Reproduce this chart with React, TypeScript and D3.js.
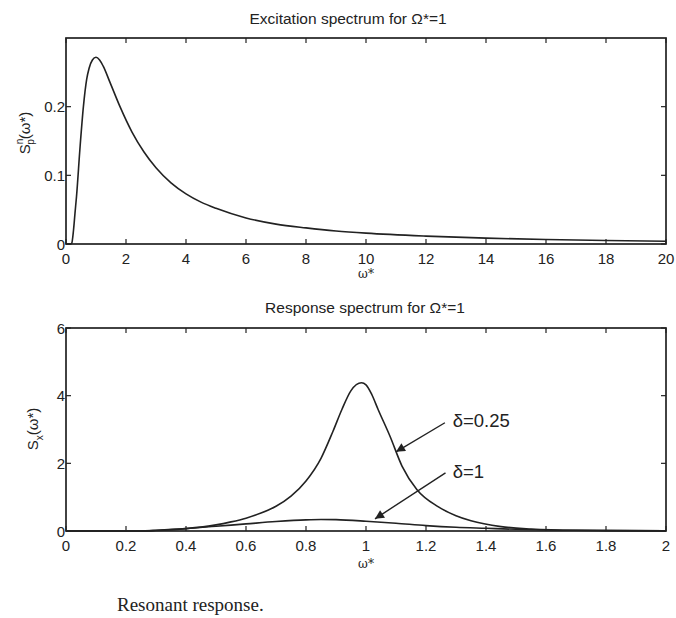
import React from 'react';
import * as d3 from 'd3';

// excitation spectrum
const excOmega = [0, 0.15, 0.19, 0.25, 0.3, 0.35, 0.47, 0.58, 0.69, 0.77, 0.88, 1.0, 1.12, 1.24, 1.47, 1.8, 2.2, 2.6, 3.0, 3.5, 4.0, 4.5, 5.0, 6.0, 7.0, 8.0, 9.0, 10, 12, 14, 16, 18, 20];
const excValue = [0, 0, 0.001, 0.02, 0.045, 0.069, 0.142, 0.2, 0.24, 0.256, 0.268, 0.272, 0.268, 0.259, 0.235, 0.2, 0.163, 0.134, 0.111, 0.089, 0.073, 0.061, 0.052, 0.038, 0.029, 0.0235, 0.019, 0.0158, 0.0115, 0.0085, 0.0065, 0.005, 0.004];

// response spectra
const respOmegaA = [0, 0.25, 0.3, 0.4, 0.5, 0.55, 0.6, 0.65, 0.7, 0.75, 0.8, 0.85, 0.89, 0.92, 0.95, 0.985, 1.0, 1.02, 1.04, 1.08, 1.12, 1.17, 1.24, 1.3, 1.35, 1.45, 1.55, 1.7, 2.0];
const respValueA = [0, 0, 0.015, 0.07, 0.18, 0.27, 0.38, 0.53, 0.73, 1.03, 1.48, 2.15, 2.95, 3.6, 4.15, 4.38, 4.32, 4.02, 3.6, 2.8, 1.92, 1.22, 0.72, 0.45, 0.3, 0.13, 0.06, 0.02, 0.005];
const respOmegaB = [0, 0.25, 0.3, 0.4, 0.5, 0.6, 0.7, 0.8, 0.85, 0.9, 1.0, 1.1, 1.2, 1.3, 1.4, 1.5, 1.6, 1.8, 2.0];
const respValueB = [0, 0, 0.02, 0.07, 0.14, 0.21, 0.28, 0.33, 0.34, 0.335, 0.29, 0.23, 0.16, 0.11, 0.08, 0.05, 0.03, 0.012, 0.005];

const topXTicks = [0, 2, 4, 6, 8, 10, 12, 14, 16, 18, 20];
const topYTicks = [0, 0.1, 0.2];
const botXTicks = [0, 0.2, 0.4, 0.6, 0.8, 1, 1.2, 1.4, 1.6, 1.8, 2];
const botYTicks = [0, 2, 4, 6];

// annotations in data units: label, text pos, arrow tail, arrow tip
const notes = [
  { label: 'δ=0.25', tx: 1.289, ty: 3.06, x1: 1.263, y1: 3.2, x2: 1.1, y2: 2.34 },
  { label: 'δ=1', tx: 1.289, ty: 1.57, x1: 1.265, y1: 1.72, x2: 1.03, y2: 0.36 },
];

const INK = '#222';
const FONT = '"Liberation Sans", Arial, sans-serif';

function Frame({ x, y, xTicks, yTicks, labelDy }: any) {
  const [x0, x1] = x.range();
  const [y0, y1] = y.range();
  const tl = 5;
  return (
    <g>
      <rect x={x0} y={y1} width={x1 - x0} height={y0 - y1} fill="none" stroke={INK} strokeWidth={1.7} />
      {xTicks.map((t: number) => (
        <g key={'x' + t}>
          <line x1={x(t)} x2={x(t)} y1={y0} y2={y0 - tl} stroke={INK} strokeWidth={1.2} />
          <line x1={x(t)} x2={x(t)} y1={y1} y2={y1 + tl} stroke={INK} strokeWidth={1.2} />
          <text x={x(t)} y={y0 + labelDy} textAnchor="middle" fontSize={15} fill={INK} fontFamily={FONT}>{String(t)}</text>
        </g>
      ))}
      {yTicks.map((t: number) => (
        <g key={'y' + t}>
          <line x1={x0} x2={x0 + tl} y1={y(t)} y2={y(t)} stroke={INK} strokeWidth={1.2} />
          <line x1={x1} x2={x1 - tl} y1={y(t)} y2={y(t)} stroke={INK} strokeWidth={1.2} />
          <text x={x0 - 1} y={y(t) + 5.5} textAnchor="end" fontSize={15} fill={INK} fontFamily={FONT}>{String(t)}</text>
        </g>
      ))}
    </g>
  );
}

export default function App() {
  const W = 676, H = 618;

  const xTop = d3.scaleLinear().domain([0, 20]).range([66, 666]);
  const yTop = d3.scaleLinear().domain([0, 0.3]).range([244, 38]);
  const xBot = d3.scaleLinear().domain([0, 2]).range([66, 666]);
  const yBot = d3.scaleLinear().domain([0, 6]).range([531, 328]);

  const lineTop = d3.line<number>().x((d, i) => xTop(excOmega[i])).y(d => yTop(d)).curve(d3.curveMonotoneX);
  const lineA = d3.line<number>().x((d, i) => xBot(respOmegaA[i])).y(d => yBot(d)).curve(d3.curveMonotoneX);
  const lineB = d3.line<number>().x((d, i) => xBot(respOmegaB[i])).y(d => yBot(d)).curve(d3.curveMonotoneX);

  return (
    <svg width={W} height={H} style={{ position: 'absolute', left: 0, top: 0, background: '#fff' }}>
      <defs>
        <marker id="ah" viewBox="0 0 10 10" refX="10" refY="5" markerWidth="13" markerHeight="9" markerUnits="userSpaceOnUse" orient="auto">
          <path d="M0,0 L10,5 L0,10 z" fill={INK} />
        </marker>
      </defs>

      {/* top panel */}
      <text x={348} y={24} textAnchor="middle" fontSize={15.5} fill={INK} fontFamily={FONT}>Excitation spectrum for Ω*=1</text>
      <path d={lineTop(excValue) || ''} fill="none" stroke={INK} strokeWidth={1.6} />
      <Frame x={xTop} y={yTop} xTicks={topXTicks} yTicks={topYTicks} labelDy={20} />
      <text x={366} y={278} textAnchor="middle" fontSize={12} fill={INK} fontFamily="DejaVu Serif, serif">ω*</text>
      <text transform="translate(30,133) rotate(-90)" textAnchor="middle" fontSize={15} fill={INK} fontFamily={FONT}>
        S<tspan fontSize={10} dy={-7}>n</tspan><tspan fontSize={10} dx={-6} dy={11}>p</tspan><tspan dy={-4}>(ω*)</tspan>
      </text>

      {/* bottom panel */}
      <text x={365} y={313} textAnchor="middle" fontSize={15.5} fill={INK} fontFamily={FONT}>Response spectrum for Ω*=1</text>
      <path d={lineA(respValueA) || ''} fill="none" stroke={INK} strokeWidth={1.6} />
      <path d={lineB(respValueB) || ''} fill="none" stroke={INK} strokeWidth={1.6} />
      <Frame x={xBot} y={yBot} xTicks={botXTicks} yTicks={botYTicks} labelDy={19.5} />
      <text x={366} y={568} textAnchor="middle" fontSize={12} fill={INK} fontFamily="DejaVu Serif, serif">ω*</text>
      <text transform="translate(38,429) rotate(-90)" textAnchor="middle" fontSize={15} fill={INK} fontFamily={FONT}>
        S<tspan fontSize={10} dy={5}>x</tspan><tspan dy={-5}>(ω*)</tspan>
      </text>

      {notes.map(n => (
        <g key={n.label}>
          <line x1={xBot(n.x1)} y1={yBot(n.y1)} x2={xBot(n.x2)} y2={yBot(n.y2)} stroke={INK} strokeWidth={1.4} markerEnd="url(#ah)" />
          <text x={xBot(n.tx)} y={yBot(n.ty)} fontSize={18.5} fill={INK} fontFamily={FONT}>{n.label}</text>
        </g>
      ))}

      <text x={117} y={611} fontSize={19} fill={INK} fontFamily='"Liberation Serif", "DejaVu Serif", serif'>Resonant response.</text>
    </svg>
  );
}
